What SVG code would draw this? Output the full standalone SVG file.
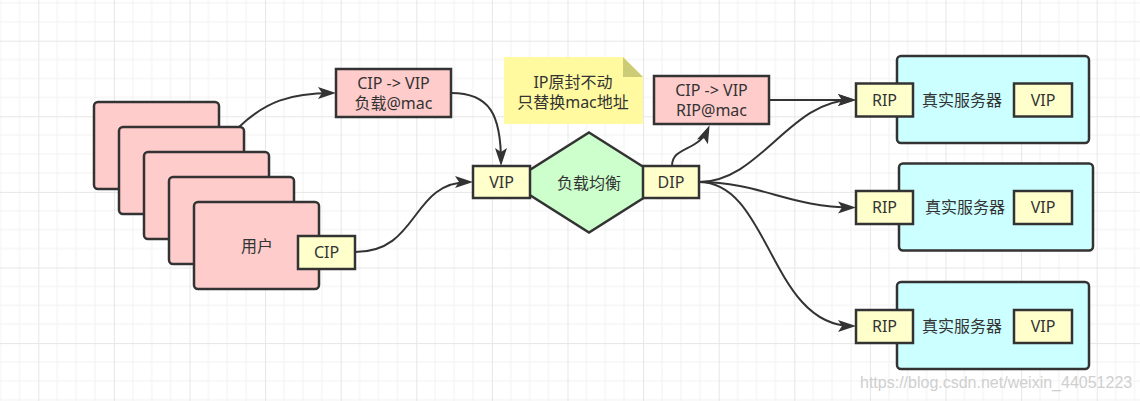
<svg xmlns="http://www.w3.org/2000/svg" width="1140" height="401" viewBox="0 0 1140 401">
<defs>
<pattern id="grid" patternUnits="userSpaceOnUse" x="38.3" y="40.7" width="75.6" height="75.6">
<path d="M18.9,0V75.6M37.8,0V75.6M56.7,0V75.6M0,18.9H75.6M0,37.8H75.6M0,56.7H75.6" stroke="#f2f2f2" stroke-width="1" fill="none"/>
<path d="M0.5,0V75.6M0,0.5H75.6" stroke="#e6e6e6" stroke-width="1" fill="none"/>
</pattern>
<marker id="arr" markerUnits="userSpaceOnUse" markerWidth="20" markerHeight="14" refX="14" refY="6" orient="auto" overflow="visible">
<path d="M0,0 L18,6 L0,12 L4,6 Z" fill="#333"/>
</marker>
<style>
.box{stroke:#333;stroke-width:2.5}
.pink{fill:#ffcccc}
.yel{fill:#ffffcc}
.green{fill:#ccffcc}
.cyan{fill:#ccffff}
.t{font-family:"Noto Sans","Noto Sans CJK SC",sans-serif;font-size:16px;fill:#333;text-anchor:middle}
.c{fill:none;stroke:#333;stroke-width:2;marker-end:url(#arr)}
</style>
</defs>
<rect width="1140" height="401" fill="#ffffff"/>
<rect width="1140" height="401" fill="url(#grid)"/>

<g id="connectors">
<path class="c" d="M239,127 C265,102 290,93 332,93"/>
<path class="c" d="M451,93 C490,93 501,115 501,162"/>
<path class="c" d="M355,252 C420,252 410,182 469,182"/>
<path class="c" d="M672,166 C672,146 698,152 708,129"/>
<path class="c" d="M769,100 L852,100"/>
<path class="c" d="M699,182 C760,182 790,100 852,100"/>
<path class="c" d="M699,182 C760,182 790,207.5 852,207.5"/>
<path class="c" d="M699,182 C770,182 770,326 852,326"/>
</g>

<g id="users">
<rect class="box pink" x="94" y="102" width="125" height="87" rx="4"/>
<rect class="box pink" x="119" y="127" width="125" height="87" rx="4"/>
<rect class="box pink" x="144" y="152" width="125" height="87" rx="4"/>
<rect class="box pink" x="169" y="177" width="125" height="87" rx="4"/>
<rect class="box pink" x="194" y="202" width="125" height="87" rx="4"/>
<text class="t" x="257" y="251.5">用户</text>
</g>
<g id="cip">
<rect class="box yel" x="298" y="236" width="57" height="33"/>
<text class="t" x="326.5" y="258">CIP</text>
</g>
<g id="packet1">
<rect class="box pink" x="336" y="69" width="115" height="48"/>
<text class="t" x="393.5" y="89">CIP -&gt; VIP</text>
<text class="t" x="393.5" y="109">负载@mac</text>
</g>
<g id="lb">
<polygon class="box green" points="589,132.5 668,182.5 589,232.5 510,182.5"/>
<text class="t" x="589" y="188.5">负载均衡</text>
</g>
<g id="vip">
<rect class="box yel" x="473" y="166" width="57" height="32"/>
<text class="t" x="501.5" y="187.5">VIP</text>
</g>
<g id="dip">
<rect class="box yel" x="643" y="166" width="56" height="32"/>
<text class="t" x="671" y="187.5">DIP</text>
</g>
<g id="note">
<path d="M504,57 H623 L643,77 V124 H504 Z" fill="#fffaa0"/>
<path d="M623,57 L643,77 H623 Z" fill="#cccc77"/>
<text class="t" x="573" y="87.5">IP原封不动</text>
<text class="t" x="573" y="108">只替换mac地址</text>
</g>
<g id="packet2">
<rect class="box pink" x="654" y="76" width="115" height="48"/>
<text class="t" x="711.5" y="95.5">CIP -&gt; VIP</text>
<text class="t" x="711.5" y="115.5">RIP@mac</text>
</g>

<g id="server1">
<rect class="box cyan" x="897" y="56" width="192" height="87" rx="4"/>
<rect class="box yel" x="856" y="83.5" width="57" height="33"/>
<text class="t" x="884.5" y="105.5">RIP</text>
<text class="t" x="962" y="106">真实服务器</text>
<rect class="box yel" x="1014" y="83.5" width="58" height="33"/>
<text class="t" x="1043" y="105.5">VIP</text>
</g>
<g id="server2">
<rect class="box cyan" x="899" y="163.5" width="194" height="87" rx="4"/>
<rect class="box yel" x="856" y="191" width="57" height="33"/>
<text class="t" x="884.5" y="213">RIP</text>
<text class="t" x="965" y="212.5">真实服务器</text>
<rect class="box yel" x="1014" y="191" width="58" height="33"/>
<text class="t" x="1043" y="213">VIP</text>
</g>
<g id="server3">
<rect class="box cyan" x="897" y="282" width="192" height="87" rx="4"/>
<rect class="box yel" x="856" y="310" width="57" height="33"/>
<text class="t" x="884.5" y="332">RIP</text>
<text class="t" x="962" y="332">真实服务器</text>
<rect class="box yel" x="1014" y="310" width="58" height="33"/>
<text class="t" x="1043" y="332">VIP</text>
</g>
<text x="860" y="388" font-family="Liberation Sans, Arial, sans-serif" font-size="16" fill="#cfcfcf">https://blog.csdn.net/weixin_44051223</text>
</svg>
